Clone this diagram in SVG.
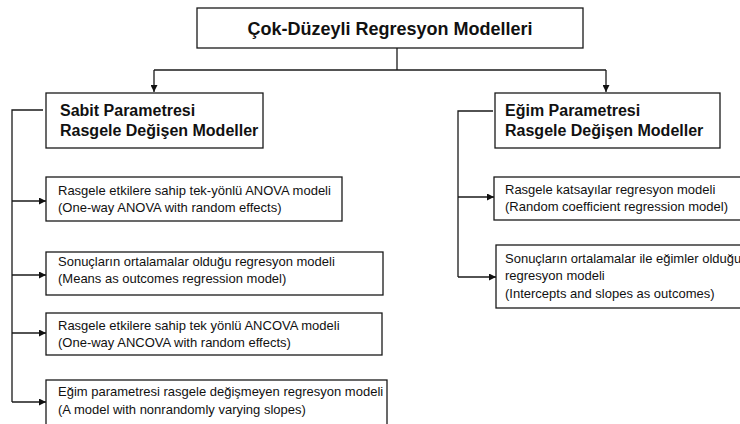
<svg xmlns="http://www.w3.org/2000/svg" width="740" height="424" viewBox="0 0 740 424">
  <style>
    .box { fill: #ffffff; stroke: #1a1a1a; stroke-width: 1.3; }
    .line { fill: none; stroke: #1a1a1a; stroke-width: 1.3; }
    .title { font-family: "Liberation Sans", Arial, sans-serif; font-size: 18px; font-weight: bold; fill: #111; }
    .head { font-family: "Liberation Sans", Arial, sans-serif; font-size: 16px; font-weight: bold; fill: #111; }
    .item { font-family: "Liberation Sans", Arial, sans-serif; font-size: 13px; fill: #111; }
  </style>
  <defs>
    <marker id="arrow" viewBox="0 0 10 10" refX="10" refY="5" markerWidth="7" markerHeight="7" markerUnits="userSpaceOnUse" orient="auto">
      <path d="M0,0 L10,5 L0,10 z" fill="#111"/>
    </marker>
  </defs>
  <rect width="740" height="424" fill="#ffffff"/>

  <!-- connectors -->
  <g id="connectors">
    <path class="line" d="M397,48 V70"/>
    <path class="line" d="M154,70 H606"/>
    <path class="line" d="M154,70 V92" marker-end="url(#arrow)"/>
    <path class="line" d="M606,70 V92" marker-end="url(#arrow)"/>
    <!-- left bracket -->
    <path class="line" d="M43,110 H12 V402"/>
    <path class="line" d="M12,201 H46" marker-end="url(#arrow)"/>
    <path class="line" d="M12,275 H46" marker-end="url(#arrow)"/>
    <path class="line" d="M12,333 H46" marker-end="url(#arrow)"/>
    <path class="line" d="M12,402 H46" marker-end="url(#arrow)"/>
    <!-- right bracket -->
    <path class="line" d="M493,111 H458 V277"/>
    <path class="line" d="M458,197 H494" marker-end="url(#arrow)"/>
    <path class="line" d="M458,277 H496" marker-end="url(#arrow)"/>
  </g>

  <g id="root">
    <rect class="box" x="197" y="8" width="386" height="40"/>
    <text class="title" x="390" y="35" text-anchor="middle">Çok-Düzeyli Regresyon Modelleri</text>
  </g>

  <g id="sabit">
    <rect class="box" x="46" y="93" width="217" height="55"/>
    <text class="head" x="60" y="116">Sabit Parametresi</text>
    <text class="head" x="60" y="136">Rasgele Değişen Modeller</text>
  </g>

  <g id="egim">
    <rect class="box" x="495" y="93" width="225" height="55"/>
    <text class="head" x="505" y="116">Eğim Parametresi</text>
    <text class="head" x="505" y="136">Rasgele Değişen Modeller</text>
  </g>

  <g id="anova">
    <rect class="box" x="46" y="177" width="296" height="44"/>
    <text class="item" x="58" y="195">Rasgele etkilere sahip tek-yönlü ANOVA modeli</text>
    <text class="item" x="58" y="212">(One-way ANOVA with random effects)</text>
  </g>

  <g id="means">
    <rect class="box" x="46" y="252" width="337" height="43"/>
    <text class="item" x="58" y="266">Sonuçların ortalamalar olduğu regresyon modeli</text>
    <text class="item" x="58" y="283">(Means as outcomes regression model)</text>
  </g>

  <g id="ancova">
    <rect class="box" x="46" y="313" width="336" height="42"/>
    <text class="item" x="58" y="330">Rasgele etkilere sahip tek yönlü ANCOVA modeli</text>
    <text class="item" x="58" y="347">(One-way ANCOVA with random effects)</text>
  </g>

  <g id="nonrandom">
    <rect class="box" x="46" y="380" width="341" height="50"/>
    <text class="item" x="58" y="396">Eğim parametresi rasgele değişmeyen regresyon modeli</text>
    <text class="item" x="58" y="414">(A model with nonrandomly varying slopes)</text>
  </g>

  <g id="random-coef">
    <rect class="box" x="494" y="177" width="250" height="43"/>
    <text class="item" x="505" y="194">Rasgele katsayılar regresyon modeli</text>
    <text class="item" x="505" y="211">(Random coefficient regression model)</text>
  </g>

  <g id="intercepts-slopes">
    <rect class="box" x="496" y="245" width="248" height="63"/>
    <text class="item" x="505" y="263">Sonuçların ortalamalar ile eğimler olduğu</text>
    <text class="item" x="505" y="280">regresyon modeli</text>
    <text class="item" x="505" y="298">(Intercepts and slopes as outcomes)</text>
  </g>
</svg>
